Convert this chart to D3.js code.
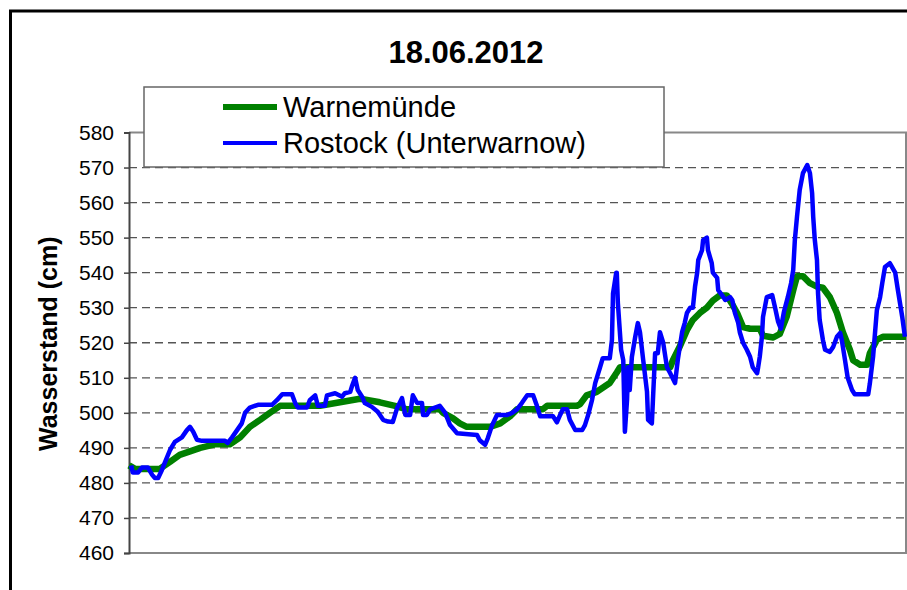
<!doctype html>
<html lang="de">
<head>
    <meta charset="utf-8">
    <title>Wasserstand 18.06.2012</title>
    <script src="https://d3js.org/d3.v7.min.js"></script>
    <style>
        body { margin: 0; background: #fff; }
        svg text { font-family: "Liberation Sans", Arial, sans-serif; fill: #000; }
        .grid line { stroke: #555; stroke-width: 1.3px; stroke-dasharray: 8 5; }
    </style>
</head>
<body>
<svg width="907" height="590"></svg>
<script>
    // Tagesverlauf, x = Minuten seit 0:00, y = Wasserstand in cm
    var title = "18.06.2012";
    var yLabel = "Wasserstand (cm)";
    var seriesNames = ["Warnemünde", "Rostock (Unterwarnow)"];
    var yTicks = [460, 470, 480, 490, 500, 510, 520, 530, 540, 550, 560, 570, 580];

    var warnemuende = [
        [0, 485], [11, 484], [57, 484], [76, 486], [94, 488], [113, 489], [132, 490],
        [159, 491], [187, 491], [206, 493], [224, 496], [243, 498], [261, 500], [280, 502],
        [317, 502], [354, 502], [391, 503], [428, 504], [465, 503], [493, 502], [515, 501],
        [576, 501], [582, 500], [600, 498.5], [613, 497], [626, 496], [669, 496], [688, 497],
        [706, 499], [719, 501], [767, 501], [775, 502], [830, 502], [836, 502.5], [848, 505],
        [867, 506], [891, 508.5], [904, 511.5], [910, 513], [1003, 513], [1008, 515],
        [1021, 519], [1034, 523.6], [1045, 526.5], [1058, 528.5], [1071, 530], [1082, 532],
        [1095, 533.5], [1108, 533.5], [1118, 531], [1127, 528.5], [1138, 524.5], [1151, 524],
        [1169, 524], [1175, 522], [1194, 521.5], [1206, 522.5], [1219, 527.5], [1231, 535],
        [1238, 539], [1249, 539], [1262, 537], [1275, 536], [1286, 535.7], [1299, 533],
        [1312, 528.5], [1323, 523], [1336, 518], [1342, 515], [1355, 513.7], [1368, 513.7],
        [1373, 517], [1386, 520.8], [1397, 521.7], [1440, 521.7]
    ];

    var rostock = [
        [4, 485], [7, 483], [17, 483], [24, 484.4], [35, 484.4], [43, 482.3], [48, 481.4],
        [54, 481.4], [61, 483.7], [67, 486], [76, 489.4], [85, 491.7], [98, 493], [107, 495],
        [113, 496], [119, 494.6], [126, 492.3], [135, 492], [178, 492], [183, 491.4],
        [191, 493], [200, 495], [209, 497], [215, 500], [224, 501.5], [239, 502.3],
        [265, 502.3], [274, 503.6], [284, 505.3], [302, 505.3], [308, 502.8], [313, 501.5],
        [330, 501.5], [335, 503.6], [345, 505], [350, 502], [363, 502], [367, 505],
        [382, 505.6], [395, 504.6], [400, 505.6], [410, 506], [413, 507.5], [419, 510],
        [424, 506.5], [432, 504.6], [437, 502.8], [450, 501.7], [461, 500.3], [471, 498],
        [480, 497.5], [489, 497.4], [497, 501.4], [506, 504.2], [512, 499.4], [521, 499.4],
        [526, 505], [534, 502.8], [543, 502.8], [545, 499.4], [552, 499.4], [558, 501],
        [576, 502], [586, 500], [595, 496.5], [608, 494.2], [645, 493.7], [650, 492.2],
        [660, 490.9], [665, 492.8], [673, 496.5], [682, 499.4], [701, 499.4], [710, 500],
        [719, 501], [728, 502.8], [738, 505], [749, 505], [756, 502], [762, 499], [786, 499],
        [793, 497.3], [799, 499.4], [804, 501], [812, 501], [817, 498], [827, 495.1],
        [840, 495.1], [845, 496.5], [851, 499.4], [858, 503.6], [864, 508.5], [873, 513],
        [878, 515.6], [891, 515.6], [895, 520.8], [897, 534], [903, 540], [904, 540],
        [906, 531.4], [912, 518], [916, 515], [919, 494.6], [923, 503.6], [925, 513],
        [928, 506.5], [932, 516], [938, 521.5], [943, 525.6], [947, 523], [953, 515],
        [960, 506], [962, 498], [969, 497], [971, 503.6], [975, 517], [980, 517], [984, 523],
        [990, 520], [997, 513], [1003, 511.3], [1012, 508.5], [1017, 515], [1025, 523],
        [1030, 525.7], [1034, 528.5], [1040, 530], [1045, 530], [1049, 536], [1053, 540],
        [1055, 543.6], [1062, 546.4], [1064, 549.3], [1071, 550], [1073, 546.4],
        [1080, 542.7], [1082, 540], [1090, 538.5], [1092, 535], [1099, 533.6], [1105, 532.2],
        [1114, 533], [1118, 532.2], [1123, 528.5], [1129, 525.7], [1132, 523], [1138, 520],
        [1145, 518], [1151, 516], [1156, 513], [1164, 511.3], [1166, 513], [1169, 516],
        [1173, 521.7], [1175, 527.4], [1182, 533], [1192, 533.6], [1197, 530.3], [1203, 526],
        [1208, 524], [1214, 529], [1221, 533], [1227, 537], [1231, 540.8], [1234, 549.3],
        [1238, 556], [1243, 563.6], [1249, 568.4], [1257, 570.7], [1262, 568.4],
        [1266, 562.7], [1268, 556], [1271, 549.3], [1275, 543.6], [1277, 534], [1280, 526.5],
        [1286, 520.8], [1290, 518], [1299, 517.4], [1305, 518.8], [1312, 521.7],
        [1318, 522.8], [1321, 520.8], [1327, 515], [1332, 510], [1340, 506.5], [1345, 505.3],
        [1370, 505.3], [1373, 508.4], [1379, 516], [1386, 529.3], [1392, 533], [1396, 537],
        [1401, 541.6], [1410, 542.7], [1420, 540], [1425, 535], [1433, 527.4], [1438, 521.7]
    ];

    var svg = d3.select("svg");

    var plot = {left: 129, right: 906, top: 132.5, bottom: 553};

    var x = d3.scaleLinear().domain([0, 1440]).range([plot.left, plot.right]);
    var y = d3.scaleLinear().domain([460, 580]).range([plot.bottom, plot.top]);

    // Rahmen um das ganze Diagramm
    svg.append("rect")
        .attr("x", 10.5).attr("y", 11)
        .attr("width", 1000).attr("height", 700)
        .attr("fill", "#fff")
        .attr("stroke", "#000")
        .attr("stroke-width", 3);

    svg.append("text")
        .attr("x", 466)
        .attr("y", 63)
        .attr("text-anchor", "middle")
        .style("font-size", "31px")
        .style("font-weight", "bold")
        .text(title);

    // Gitterlinien
    svg.append("g")
        .attr("class", "grid")
        .selectAll("line")
        .data(yTicks.filter(function (d) { return d > 460 && d < 580; }))
        .enter().append("line")
        .attr("x1", plot.left)
        .attr("x2", plot.right)
        .attr("y1", function (d) { return y(d); })
        .attr("y2", function (d) { return y(d); });

    // Plotrahmen oben / rechts / unten
    svg.append("path")
        .attr("d", "M" + plot.left + "," + plot.top + "H" + plot.right + "V" + plot.bottom + "H" + plot.left)
        .attr("fill", "none")
        .attr("stroke", "#888")
        .attr("stroke-width", 2);

    var yAxis = d3.axisLeft(y)
        .tickValues(yTicks)
        .tickSize(5)
        .tickPadding(10)
        .tickFormat(d3.format("d"));

    var ga = svg.append("g")
        .attr("transform", "translate(" + plot.left + ",0)")
        .call(yAxis);
    ga.select(".domain").attr("stroke", "#444").attr("stroke-width", 2);
    ga.selectAll(".tick line").attr("stroke", "#444").attr("stroke-width", 1.5);
    ga.selectAll(".tick text")
        .attr("font-family", null)
        .style("font-size", "21px")
        .attr("fill", "#000");

    svg.append("text")
        .attr("transform", "translate(57," + ((plot.top + plot.bottom) / 2 + 1) + ") rotate(-90)")
        .attr("text-anchor", "middle")
        .style("font-size", "25px")
        .style("font-weight", "bold")
        .text(yLabel);

    var line = d3.line()
        .x(function (d) { return x(d[0]); })
        .y(function (d) { return y(d[1]); });

    svg.append("path")
        .datum(warnemuende)
        .attr("d", line)
        .attr("fill", "none")
        .attr("stroke", "#008000")
        .attr("stroke-width", 6.5)
        .attr("stroke-linejoin", "round");

    svg.append("path")
        .datum(rostock)
        .attr("d", line)
        .attr("fill", "none")
        .attr("stroke", "#0000ff")
        .attr("stroke-width", 4.5)
        .attr("stroke-linejoin", "round");

    // Legende
    var legend = svg.append("g").attr("class", "legend");
    legend.append("rect")
        .attr("x", 144).attr("y", 87)
        .attr("width", 520).attr("height", 80)
        .attr("fill", "#fff")
        .attr("stroke", "#666")
        .attr("stroke-width", 1.5);

    var legendItems = legend.selectAll(".item")
        .data(seriesNames)
        .enter().append("g")
        .attr("class", "item")
        .attr("transform", function (d, i) { return "translate(0," + (107 + i * 36) + ")"; });

    legendItems.append("line")
        .attr("x1", 223).attr("x2", 277)
        .attr("stroke", function (d, i) { return i === 0 ? "#008000" : "#0000ff"; })
        .attr("stroke-width", function (d, i) { return i === 0 ? 6 : 4; });

    legendItems.append("text")
        .attr("x", 283)
        .attr("y", 10)
        .style("font-size", "29px")
        .text(function (d) { return d; });
</script>
</body>
</html>
